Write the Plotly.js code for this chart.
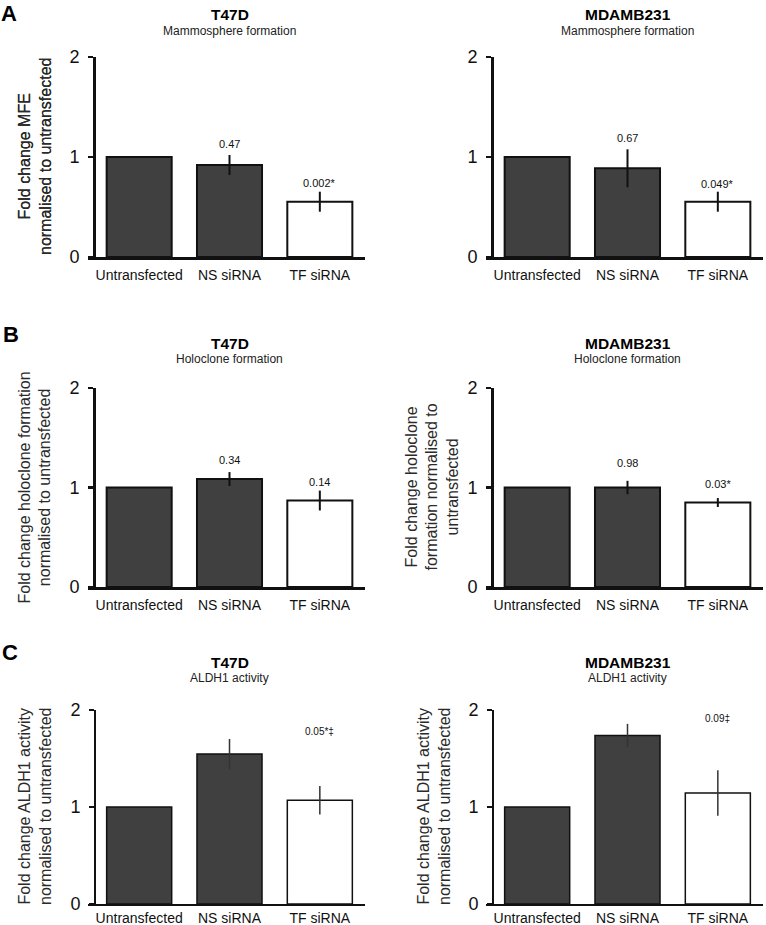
<!DOCTYPE html>
<html>
<head>
<meta charset="utf-8">
<script src="https://cdn.plot.ly/plotly-3.0.1.min.js"></script>
<style>
  html, body { margin: 0; padding: 0; background: #fff; }
  #chart { width: 766px; height: 925px; }
</style>
</head>
<body>
<div id="chart"></div>
<script>
// ---------- data ----------
const categories = ['Untransfected', 'NS siRNA', 'TF siRNA'];
const yTickVals = [0, 1, 2];

const cellLines = ['T47D', 'MDAMB231'];
const assays = ['Mammosphere formation', 'Holoclone formation', 'ALDH1 activity'];
const panelLetters = ['A', 'B', 'C'];

const yTitles = [
  ['Fold change MFE<br>normalised to untransfected', 'Fold change MFE<br>normalised to untransfected'],
  ['Fold change holoclone formation<br>normalised to untransfected', 'Fold change holoclone<br>formation normalised to<br>untransfected'],
  ['Fold change ALDH1 activity<br>normalised to untransfected', 'Fold change ALDH1 activity<br>normalised to untransfected']
];

// mean fold change
const mammoT47D    = [1, 0.92, 0.553];
const mammoMDA     = [1, 0.887, 0.553];
const holoT47D     = [1, 1.085, 0.869];
const holoMDA      = [1, 1.0, 0.849];
const aldhT47D     = [1, 1.546, 1.069];
const aldhMDA      = [1, 1.737, 1.144];

// error (SEM)
const mammoT47DErr = [0, 0.10, 0.10];
const mammoMDAErr  = [0, 0.19, 0.10];
const holoT47DErr  = [0, 0.07, 0.10];
const holoMDAErr   = [0, 0.067, 0.045];
const aldhT47DErr  = [0, 0.155, 0.147];
const aldhMDAErr   = [0, 0.12, 0.235];

// p-value labels (per category; '' = none)
const mammoT47DP = ['', '0.47', '0.002*'];
const mammoMDAP  = ['', '0.67', '0.049*'];
const holoT47DP  = ['', '0.34', '0.14'];
const holoMDAP   = ['', '0.98', '0.03*'];
const aldhT47DP  = ['', '', '0.05*‡'];
const aldhMDAP   = ['', '', '0.09‡'];

// ---------- layout config (positions/styles) ----------
const W = 766, H = 925;
const FONT = '"Liberation Sans", Arial, sans-serif';
const barColors = ['#404040', '#404040', '#ffffff'];

const panels = [
  {row: 0, col: 0, y: mammoT47D, e: mammoT47DErr, p: mammoT47DP, pY: [0, 1.13, 0.74]},
  {row: 0, col: 1, y: mammoMDA,  e: mammoMDAErr,  p: mammoMDAP,  pY: [0, 1.187, 0.73]},
  {row: 1, col: 0, y: holoT47D,  e: holoT47DErr,  p: holoT47DP,  pY: [0, 1.28, 1.06]},
  {row: 1, col: 1, y: holoMDA,   e: holoMDAErr,   p: holoMDAP,   pY: [0, 1.245, 1.034]},
  {row: 2, col: 0, y: aldhT47D,  e: aldhT47DErr,  p: aldhT47DP,  pY: [0, 0, 1.78]},
  {row: 2, col: 1, y: aldhMDA,   e: aldhMDAErr,   p: aldhMDAP,   pY: [0, 0, 1.91]}
];

// pixel geometry
const rowPx = [[57, 257], [388, 587], [710, 904]];        // top, bottom of plot area
const colXPx = [[88, 365], [486, 763]];                    // x-axis line extent
const colYAxisPx = [94, 492];                              // y-axis position
const titlePx = [[15, 31], [343, 359], [662, 678]];
const letterPx = [[9, 14], [11, 334], [10, 652]];
const yTitleXPx = [[35, 35], [35, 432], [35, 434]];
const lineW = [2.5, 2.5, 1.5];
const barLineW = [2, 2, 1.5];
const pFont = [11, 11, 10];
const xTickLen = [4, 4, 1];

const px = v => v / W;
const py = v => (H - v) / H;

const data = [];
const layout = {
  width: W, height: H,
  margin: {l: 0, r: 0, t: 0, b: 0},
  paper_bgcolor: '#fff', plot_bgcolor: 'rgba(0,0,0,0)',
  showlegend: false,
  font: {family: FONT, color: '#000'},
  annotations: []
};

panels.forEach((pn, i) => {
  const n = i + 1;
  const xa = n === 1 ? 'x' : 'x' + n;
  const ya = n === 1 ? 'y' : 'y' + n;
  const xk = n === 1 ? 'xaxis' : 'xaxis' + n;
  const yk = n === 1 ? 'yaxis' : 'yaxis' + n;
  const r = pn.row, c = pn.col;

  data.push({
    type: 'bar',
    x: categories,
    y: pn.y,
    width: 0.72,
    xaxis: xa, yaxis: ya,
    marker: {color: barColors, line: {color: '#111', width: barLineW[r]}},
    error_y: {type: 'data', array: pn.e, visible: true, width: 0,
              thickness: barLineW[r], color: r === 2 ? '#333' : '#111'},
    hoverinfo: 'skip'
  });

  const x0 = colXPx[c][0], x1 = colXPx[c][1];
  const unit = (x1 - colYAxisPx[c]) / 3;
  const rangeStart = -0.5 - (colYAxisPx[c] - x0) / unit;

  layout[xk] = {
    domain: [px(x0), px(x1)],
    range: [rangeStart, 2.5],
    anchor: ya,
    type: 'category',
    showline: true, linecolor: '#111', linewidth: lineW[r],
    showgrid: false, zeroline: false,
    ticks: 'outside', ticklen: xTickLen[r], tickcolor: 'rgba(0,0,0,0)',
    tickfont: {family: FONT, size: 14, color: '#111'},
    fixedrange: true
  };
  layout[yk] = {
    domain: [py(rowPx[r][1]), py(rowPx[r][0])],
    range: [0, 2],
    anchor: 'free',
    position: px(colYAxisPx[c]),
    showline: true, linecolor: '#111', linewidth: lineW[r],
    showgrid: false, zeroline: false,
    ticks: 'outside', ticklen: 5, tickwidth: lineW[r], tickcolor: '#111',
    ticklabelstandoff: 5,
    tickvals: yTickVals,
    tickfont: {family: FONT, size: 18, color: '#111'},
    fixedrange: true
  };

  const cx = (colYAxisPx[c] + x1) / 2;
  layout.annotations.push({
    xref: 'paper', yref: 'paper', x: px(cx), y: py(titlePx[r][0]),
    xanchor: 'center', yanchor: 'middle', showarrow: false,
    text: '<b>' + cellLines[c] + '</b>', font: {family: FONT, size: 15.5, color: '#000'}
  });
  layout.annotations.push({
    xref: 'paper', yref: 'paper', x: px(cx), y: py(titlePx[r][1]),
    xanchor: 'center', yanchor: 'middle', showarrow: false,
    text: assays[r], font: {family: FONT, size: 12, color: '#222'}
  });
  layout.annotations.push({
    xref: 'paper', yref: 'paper', x: px(yTitleXPx[r][c]),
    y: py((rowPx[r][0] + rowPx[r][1]) / 2),
    xanchor: 'center', yanchor: 'middle', showarrow: false, textangle: -90,
    text: yTitles[r][c], font: {family: FONT, size: 16, color: '#2a2a2a'}
  });
  pn.p.forEach((lab, k) => {
    if (!lab) return;
    layout.annotations.push({
      xref: xa, yref: ya, x: categories[k], y: pn.pY[k],
      xanchor: 'center', yanchor: 'middle', showarrow: false,
      text: lab, font: {family: FONT, size: pFont[r], color: '#111'}
    });
  });
});

panelLetters.forEach((L, r) => {
  layout.annotations.push({
    xref: 'paper', yref: 'paper', x: px(letterPx[r][0]), y: py(letterPx[r][1]),
    xanchor: 'center', yanchor: 'middle', showarrow: false,
    text: '<b>' + L + '</b>', font: {family: FONT, size: 22, color: '#000'}
  });
});

Plotly.newPlot('chart', data, layout, {displayModeBar: false, staticPlot: true});
</script>
</body>
</html>
